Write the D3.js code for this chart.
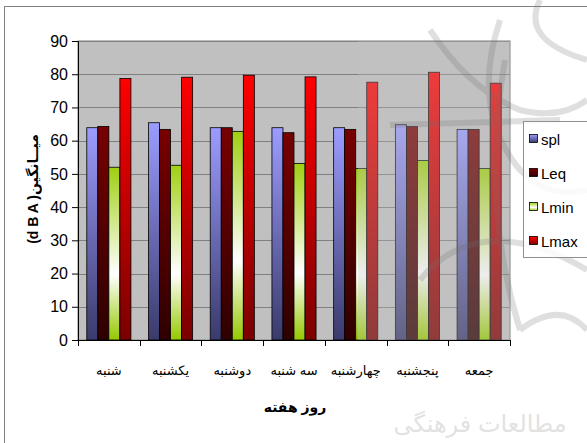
<!DOCTYPE html>
<html><head><meta charset="utf-8">
<script src="https://cdn.jsdelivr.net/npm/d3@7"></script>
<style>
html,body{margin:0;padding:0;background:#fff;}
svg{display:block;font-family:"Liberation Sans","DejaVu Sans",Arial,sans-serif;}
</style></head>
<body>
<svg id="chart" width="587" height="443"></svg>
<script>
const days = ["شنبه","یکشنبه","دوشنبه","سه شنبه","چهارشنبه","پنجشنبه","جمعه"];
const seriesNames = ["spl","Leq","Lmin","Lmax"];
const spl  = [63.9, 65.4, 63.9, 63.9, 63.9, 64.8, 63.4];
const leq  = [64.3, 63.4, 63.9, 62.4, 63.4, 64.3, 63.4];
const lmin = [52.0, 52.6, 62.8, 53.1, 51.6, 54.0, 51.6];
const lmax = [78.7, 79.1, 79.7, 79.2, 77.6, 80.6, 77.3];
const yTicks = [0,10,20,30,40,50,60,70,80,90];
const yTitle = "(d B A )میــانگین";
const xTitle = "روز هفته";
const watermarkText = "مطالعات فرهنگی";

const seriesValues = [spl, leq, lmin, lmax];

const svg = d3.select("#chart");
const defs = svg.append("defs");

const grads = [
  {id:"g-spl", stops:[[0,"#9c9cff"],[1,"#3a3a6c"]]},
  {id:"g-leq", stops:[[0,"#780000"],[1,"#2e0000"]]},
  {id:"g-lmin", stops:[[0,"#9fcf10"],[0.62,"#ffffff"],[1,"#96c800"]]},
  {id:"g-lmax", stops:[[0,"#ff0000"],[1,"#7a0000"]]}
];
grads.forEach(g=>{
  const lg = defs.append("linearGradient").attr("id",g.id)
    .attr("x1",0).attr("y1",0).attr("x2",0).attr("y2",1);
  g.stops.forEach(s=>lg.append("stop").attr("offset",s[0]).attr("stop-color",s[1]));
});

// outer border
svg.append("rect").attr("x",4.5).attr("y",6.5).attr("width",620).attr("height",460)
  .attr("fill","#fff").attr("stroke","#808080").attr("stroke-width",1);

const L = 78, R = 510, T = 41, B = 340;
const x = d3.scaleBand().domain(days).range([L,R]).paddingInner(0.285).paddingOuter(0.1425);
const x1 = d3.scaleBand().domain(seriesNames).range([0,x.bandwidth()]);
const y = d3.scaleLinear().domain([0,90]).range([B,T]);

// plot area
svg.append("rect").attr("x",L).attr("y",T).attr("width",R-L).attr("height",B-T)
  .attr("fill","#c0c0c0").attr("stroke","#808080");

// grid
svg.append("g").selectAll("line").data(yTicks.filter(d=>d>0)).join("line")
  .attr("x1",L).attr("x2",R).attr("y1",d=>Math.round(y(d))+0.5).attr("y2",d=>Math.round(y(d))+0.5)
  .attr("stroke","#808080").attr("stroke-width",1);

// bars
const groups = svg.append("g").selectAll("g").data(days).join("g")
  .attr("transform",d=>`translate(${x(d)},0)`);
groups.selectAll("rect").data((d,i)=>seriesNames.map((s,k)=>({s,k,v:seriesValues[k][i]}))).join("rect")
  .attr("x",d=>x1(d.s)).attr("width",x1.bandwidth())
  .attr("y",d=>y(d.v)).attr("height",d=>B-y(d.v))
  .attr("fill",d=>`url(#${grads[d.k].id})`)
  .attr("stroke","#000").attr("stroke-width",0.8);

// axes
const yAxis = d3.axisLeft(y).tickValues(yTicks).tickSize(6).tickPadding(4).tickFormat(d3.format("d"));
const ya = svg.append("g").attr("transform",`translate(${L},0)`).call(yAxis);
ya.select(".domain").attr("stroke","#000");
ya.selectAll(".tick line").attr("stroke","#000");
ya.selectAll("text").attr("font-size",16).attr("fill","#000")
  .attr("font-family","'Liberation Sans',Arial,sans-serif");

const xAxis = d3.axisBottom(x).tickSize(0).tickFormat("");
const xa = svg.append("g").attr("transform",`translate(0,${B})`).call(xAxis);
xa.select(".domain").attr("stroke","#000");
const bounds = days.map(d=>x(d)-x.step()*x.paddingInner()/2).concat([R]);
bounds[0] = L;
svg.append("g").selectAll("line").data(bounds).join("line")
  .attr("x1",d=>Math.round(d)+0.5).attr("x2",d=>Math.round(d)+0.5)
  .attr("y1",B).attr("y2",B+6).attr("stroke","#000");

// watermark (right side)
const wm = svg.append("g");
wm.append("rect").attr("x",358).attr("y",T).attr("width",R-358).attr("height",B-T)
  .attr("fill","#c4c4c4").attr("opacity",0.3);
const clip = defs.append("clipPath").attr("id","wmclip");
clip.append("rect").attr("x",358).attr("y",0).attr("width",229).attr("height",443);
const arcs = wm.append("g").attr("clip-path","url(#wmclip)").attr("fill","none")
  .attr("stroke","#707070").attr("opacity",0.22).attr("stroke-width",6);
arcs.append("path").attr("d","M430,30 Q470,90 520,110 Q560,120 587,100");
arcs.append("path").attr("d","M500,20 Q470,110 520,170 Q550,200 587,190");
arcs.append("path").attr("d","M390,125 L560,120");
arcs.append("path").attr("d","M505,60 Q480,200 520,330");
arcs.append("path").attr("d","M420,280 C460,230 520,230 587,270");
arcs.append("path").attr("d","M540,0 Q520,40 587,60");
arcs.append("path").attr("d","M520,330 Q560,300 587,330");
wm.append("text").attr("x",480).attr("y",432).attr("text-anchor","middle")
  .attr("font-size",24).attr("fill","#a0a0a0").attr("opacity",0.3).text(watermarkText);

// x labels
svg.append("g").selectAll("text").data(days).join("text")
  .attr("x",d=>x(d)+x.bandwidth()/2).attr("y",375)
  .attr("text-anchor","middle").attr("font-size",13).attr("fill","#000")
  .text(d=>d);

// x title
svg.append("text").attr("x",295).attr("y",412).attr("text-anchor","middle")
  .attr("font-size",14).attr("font-weight","bold").text(xTitle);

// y title
svg.append("text").attr("transform","translate(38,189) rotate(-90)")
  .attr("text-anchor","middle").attr("font-size",14).attr("font-weight","bold")
  .attr("direction","ltr").text(yTitle);

// legend
const lg = svg.append("g");
lg.append("rect").attr("x",523.5).attr("y",121.5).attr("width",70).attr("height",136)
  .attr("fill","#ffffff").attr("fill-opacity",0.85).attr("stroke","#909090");
const li = lg.selectAll("g").data(seriesNames).join("g")
  .attr("transform",(d,i)=>`translate(529,${139 + i*34})`);
li.append("rect").attr("x",0.5).attr("y",-4.5).attr("width",8).attr("height",8)
  .attr("fill",(d,i)=>`url(#${grads[i].id})`).attr("stroke","#000").attr("stroke-width",0.8);
li.append("text").attr("x",12).attr("y",6).attr("font-size",15).text(d=>d);
</script>
</body></html>
